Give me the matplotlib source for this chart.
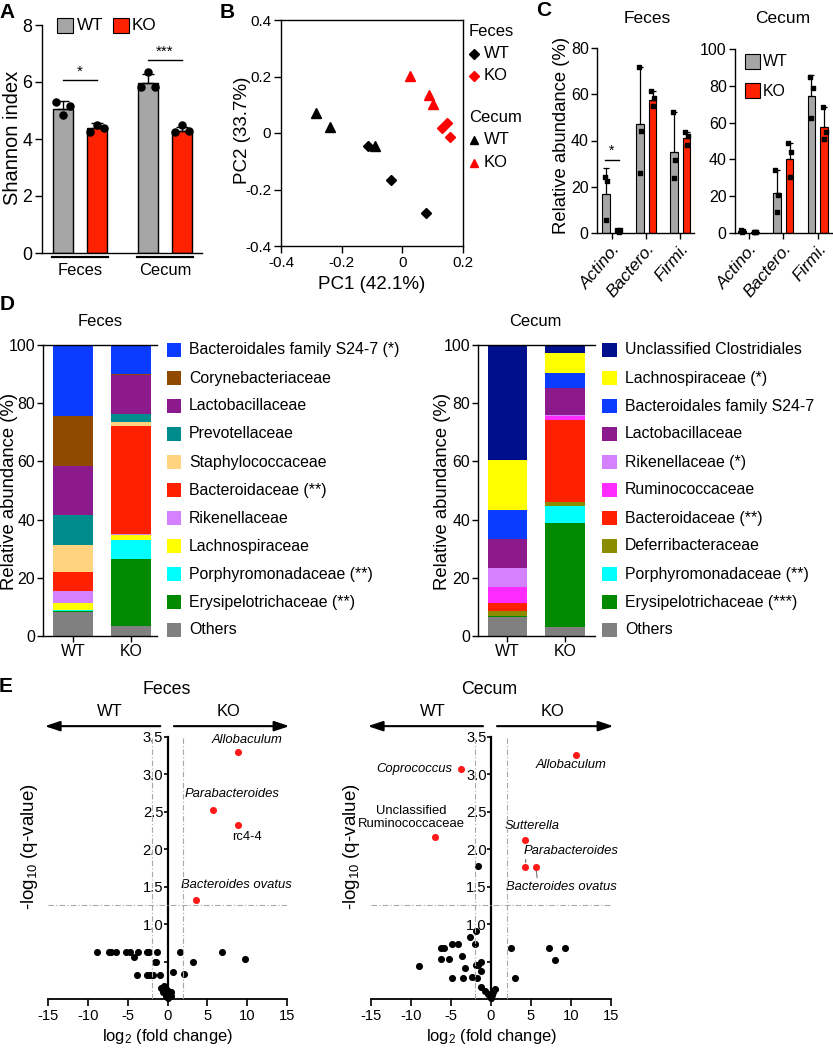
#!/usr/bin/env python3
# Microbiota figure: Shannon index, PCA, phylum bars, family composition, volcano plots

import numpy as np
import matplotlib
matplotlib.use('Agg')
import matplotlib.pyplot as plt
from matplotlib import font_manager as fm
from matplotlib.patches import Rectangle
from matplotlib.lines import Line2D

W, H = 833, 1050

installed = {f.name for f in fm.fontManager.ttflist}
REG = 'Liberation Sans' if 'Liberation Sans' in installed else 'DejaVu Sans'
if 'Liberation Sans Narrow' in installed:
    NAR, NS = 'Liberation Sans Narrow', 1.0
else:
    NAR, NS = REG, 0.85

plt.rcParams['font.family'] = [REG, 'DejaVu Sans']
plt.rcParams['mathtext.default'] = 'regular'
plt.rcParams['axes.unicode_minus'] = False
plt.rcParams['axes.linewidth'] = 1.0

GRAY = '#A6A6A6'
RED = '#FF2200'

# ---------------- data ----------------
# A: Shannon index
sites = ['Feces', 'Cecum']
shannon_wt = [5.05, 5.97]
shannon_ko = [4.38, 4.27]
shannon_wt_sd = [0.28, 0.30]
shannon_ko_sd = [0.17, 0.14]
shannon_wt_pts = [[5.31, 4.84, 5.16], [5.81, 6.36, 5.81]]   # left, centre, right dot
shannon_ko_pts = [[4.25, 4.50, 4.38], [4.26, 4.49, 4.28]]

# B: PCA (x = PC1, y = PC2)
pca_feces_wt_x = [-0.113, -0.038, 0.079]
pca_feces_wt_y = [-0.045, -0.166, -0.284]
pca_feces_ko_x = [0.130, 0.147, 0.158]
pca_feces_ko_y = [0.019, 0.034, -0.015]
pca_cecum_wt_x = [-0.283, -0.239, -0.091]
pca_cecum_wt_y = [0.070, 0.022, -0.045]
pca_cecum_ko_x = [0.024, 0.087, 0.100]
pca_cecum_ko_y = [0.203, 0.135, 0.103]

# C: phylum relative abundance
phyla = ['Actino.', 'Bactero.', 'Firmi.']
feces_phy_wt = [17.0, 47.0, 35.0]
feces_phy_ko = [0.8, 57.5, 41.0]
feces_phy_wt_sd = [11.0, 25.0, 17.5]
feces_phy_ko_sd = [0.4, 4.0, 2.5]
feces_phy_wt_pts = [[24.3, 5.5, 22.5], [71.7, 25.9, 44.2], [52.2, 23.6, 31.6]]
feces_phy_ko_pts = [[1.0, 0.4, 1.1], [61.3, 54.8, 58.4], [43.5, 38.1, 42.0]]
cecum_phy_wt = [1.0, 21.5, 74.5]
cecum_phy_ko = [0.5, 40.0, 57.5]
cecum_phy_wt_sd = [0.6, 12.7, 11.5]
cecum_phy_ko_sd = [0.2, 8.8, 11.2]
cecum_phy_wt_pts = [[1.5, 0.4, 1.0], [34.0, 11.5, 20.5], [85.1, 62.8, 78.8]]
cecum_phy_ko_pts = [[0.5, 0.3, 0.6], [48.8, 30.5, 44.2], [68.7, 51.0, 55.1]]

# D: family composition (listed top of stack first)
fam_feces = ['Bacteroidales family S24-7 (*)', 'Corynebacteriaceae', 'Lactobacillaceae',
             'Prevotellaceae', 'Staphylococcaceae', 'Bacteroidaceae (**)', 'Rikenellaceae',
             'Lachnospiraceae', 'Porphyromonadaceae (**)', 'Erysipelotrichaceae (**)', 'Others']
col_feces = ['#0A3BFF', '#8F4A00', '#8C1A8C', '#008C8C', '#FFD37F', '#FF2000', '#D580FF',
             '#FFFF00', '#00FFFF', '#008A00', '#808080']
feces_fam_wt = [24.5, 17.2, 16.6, 10.3, 9.5, 6.6, 4.0, 2.4, 0.4, 0.1, 8.4]
feces_fam_ko = [10.0, 0.3, 13.4, 2.6, 1.5, 37.2, 0.3, 1.7, 6.7, 22.9, 3.4]

fam_cecum = ['Unclassified Clostridiales', 'Lachnospiraceae (*)', 'Bacteroidales family S24-7',
             'Lactobacillaceae', 'Rikenellaceae (*)', 'Ruminococcaceae', 'Bacteroidaceae (**)',
             'Deferribacteraceae', 'Porphyromonadaceae (**)', 'Erysipelotrichaceae (***)', 'Others']
col_cecum = ['#000F8C', '#FFFF00', '#0A3BFF', '#8C1A8C', '#D580FF', '#FF2BFF', '#FF2000',
             '#8C8C00', '#00FFFF', '#008A00', '#808080']
cecum_fam_wt = [39.4, 17.3, 10.0, 10.1, 6.3, 5.7, 2.5, 1.8, 0.1, 0.2, 6.6]
cecum_fam_ko = [2.9, 6.8, 5.0, 9.5, 0.2, 1.4, 28.3, 1.2, 6.0, 35.5, 3.2]

# E: volcano plots (log2 fold change, -log10 q)
vf_x = [-8.85, -7.4, -7.1, -6.5, -5.2, -4.7, -3.65, -2.6, -2.3, -1.3, 1.56, 6.85,
        9.7, -4.15, -1.6, -1.4, 3.15,
        -3.8, -2.6, -2.2, -1.8, -1.0, 0.65, 2.1,
        -0.8, -0.6, -0.5, -0.3, -0.2, 0.0, 0.1, 0.3, 0.5, 0.45, -0.1]
vf_y = [0.63, 0.63, 0.63, 0.63, 0.63, 0.63, 0.63, 0.63, 0.63, 0.63, 0.63, 0.63,
        0.54, 0.56, 0.50, 0.50, 0.49,
        0.32, 0.32, 0.32, 0.32, 0.32, 0.36, 0.34,
        0.15, 0.10, 0.17, 0.08, 0.04, 0.02, 0.06, 0.10, 0.09, 0.04, 0.12]
vf_sig = ['Allobaculum', 'Parabacteroides', 'rc4-4', 'Bacteroides ovatus']
vf_sig_x = [8.8, 5.7, 8.8, 3.6]
vf_sig_y = [3.30, 2.52, 2.33, 1.32]

vc_x = [-1.6, -1.9, -2.65, -2.0, -4.85, -4.1, -6.3, -5.9, -6.3, -5.3, -3.6, -8.95, -3.3,
        -1.9, -1.6, -1.26, -1.26, -4.85, -3.5, -2.35, -1.7,
        -1.2, -0.75, -0.35, 0.0, 0.3, 0.5, -0.1, 0.15,
        2.5, 3.0, 7.3, 9.2, 8.0]
vc_y = [1.78, 0.91, 0.83, 0.73, 0.74, 0.74, 0.68, 0.68, 0.53, 0.53, 0.58, 0.44, 0.42,
        0.45, 0.45, 0.49, 0.38, 0.28, 0.28, 0.29, 0.28,
        0.16, 0.11, 0.07, 0.02, 0.09, 0.135, 0.05, 0.05,
        0.68, 0.28, 0.68, 0.68, 0.52]
vc_sig = ['Allobaculum', 'Coprococcus', 'Unclassified\nRuminococcaceae', 'Sutterella',
          'Parabacteroides', 'Bacteroides ovatus']
vc_sig_x = [10.6, -3.8, -7.0, 4.3, 4.3, 5.6]
vc_sig_y = [3.26, 3.07, 2.16, 2.12, 1.77, 1.77]

# ---------------- helpers ----------------
fig = plt.figure(figsize=(W / 100, H / 100), dpi=100)


def fbox(x0, y0, x1, y1):
    return [x0 / W, 1 - y1 / H, (x1 - x0) / W, (y1 - y0) / H]


def ftext(x, y, s, **kw):
    kw.setdefault('ha', 'center')
    kw.setdefault('va', 'center')
    fig.text(x / W, 1 - y / H, s, **kw)


def fsquare(x, y, w, h, color, lw=0.8):
    fig.add_artist(Rectangle((x / W, 1 - (y + h) / H), w / W, h / H, facecolor=color,
                             edgecolor='black', lw=lw, transform=fig.transFigure))


def tick_font(ax, fam, size):
    for t in ax.get_xticklabels() + ax.get_yticklabels():
        t.set_fontfamily(fam)
        t.set_fontsize(size)


def plain(ax):
    ax.spines['top'].set_visible(False)
    ax.spines['right'].set_visible(False)


# panel letters
for letter, lx, ly in [('A', 7, 12), ('B', 227, 12), ('C', 544, 11), ('D', 7, 304), ('E', 6, 686)]:
    ftext(lx, ly, letter, fontsize=15, fontweight='bold')

# ---------------- A ----------------
axA = fig.add_axes(fbox(42, 25, 202, 253))
gx = np.arange(len(sites))
a_off, a_w = 0.2, 0.235
jit = np.array([-0.08, 0.0, 0.08])
axA.bar(gx - a_off, shannon_wt, a_w, color=GRAY, edgecolor='black', lw=1, zorder=2)
axA.bar(gx + a_off, shannon_ko, a_w, color=RED, edgecolor='black', lw=1, zorder=2)
axA.errorbar(gx - a_off, shannon_wt, yerr=[np.zeros(2), shannon_wt_sd], fmt='none',
             ecolor='black', elinewidth=1, capsize=4, capthick=1, zorder=3)
axA.errorbar(gx + a_off, shannon_ko, yerr=[np.zeros(2), shannon_ko_sd], fmt='none',
             ecolor='black', elinewidth=1, capsize=4, capthick=1, zorder=3)
for i in range(len(sites)):
    axA.scatter(gx[i] - a_off + jit, shannon_wt_pts[i], s=26, color='black', zorder=4)
    axA.scatter(gx[i] + a_off + jit, shannon_ko_pts[i], s=26, color='black', zorder=4)
    axA.plot([gx[i] - 0.33, gx[i] + 0.33], [-0.14, -0.14], color='black', lw=1.6, clip_on=False)
    axA.text(gx[i], -0.62, sites[i], ha='center', va='center', fontfamily=NAR, fontsize=14 * NS)
axA.plot([gx[0] - a_off, gx[0] + a_off], [6.07, 6.07], color='black', lw=1)
axA.text(gx[0], 6.12, '*', ha='center', va='bottom', fontsize=11)
axA.plot([gx[1] - a_off, gx[1] + a_off], [6.77, 6.77], color='black', lw=1)
axA.text(gx[1], 6.82, '***', ha='center', va='bottom', fontsize=11)
axA.set_xlim(-0.447, 1.435)
axA.set_ylim(0, 8)
axA.set_yticks([0, 2, 4, 6, 8])
axA.set_xticks([])
plain(axA)
axA.tick_params(axis='y', length=5, width=1, pad=2)
tick_font(axA, NAR, 15 * NS)
ftext(12.5, 138, 'Shannon index', rotation=90, fontsize=14.5)
fsquare(57, 18, 16, 15, GRAY)
ftext(77, 26, 'WT', ha='left', fontfamily=NAR, fontsize=14.5 * NS)
fsquare(113, 18, 16, 15, RED)
ftext(132, 26, 'KO', ha='left', fontfamily=NAR, fontsize=14.5 * NS)

# ---------------- B ----------------
axB = fig.add_axes(fbox(281, 20, 463, 246))
axB.plot(pca_feces_wt_x, pca_feces_wt_y, 'D', color='black', ms=5, ls='none', zorder=3)
axB.plot(pca_feces_ko_x, pca_feces_ko_y, 'D', color='#FF0000', ms=5, ls='none', zorder=3)
axB.plot(pca_cecum_wt_x, pca_cecum_wt_y, '^', color='black', ms=7, ls='none', zorder=3)
axB.plot(pca_cecum_ko_x, pca_cecum_ko_y, '^', color='#FF0000', ms=7, ls='none', zorder=3)
axB.set_xlim(-0.4, 0.2)
axB.set_ylim(-0.4, 0.4)
axB.set_xticks([-0.4, -0.2, 0, 0.2])
axB.set_xticklabels(['-0.4', '-0.2', '0', '0.2'])
axB.set_yticks([-0.4, -0.2, 0, 0.2, 0.4])
axB.set_yticklabels(['-0.4', '-0.2', '0', '0.2', '0.4'])
axB.tick_params(length=5, width=1, pad=2)
tick_font(axB, REG, 11)
ftext(242.5, 130, 'PC2 (33.7%)', rotation=90, fontsize=13.5)
ftext(372, 285, 'PC1 (42.1%)', fontsize=13.5)
ftext(469, 32, 'Feces', ha='left', fontsize=12)
ftext(469, 117, 'Cecum', ha='left', fontsize=12)
for yy, mk, col, lab in [(54, 'D', 'black', 'WT'), (76, 'D', '#FF0000', 'KO'),
                         (140, '^', 'black', 'WT'), (163, '^', '#FF0000', 'KO')]:
    fig.add_artist(Line2D([473.5 / W], [1 - yy / H], marker=mk, color=col, ls='none',
                          ms=5 if mk == 'D' else 6, transform=fig.transFigure))
    ftext(484, yy, lab, ha='left', fontsize=12)

# ---------------- C ----------------
c_off, c_w = 0.185, 0.22
c_jit = np.array([-0.04, 0.0, 0.04])


def phylum_panel(ax, wt, ko, wt_sd, ko_sd, wt_pts, ko_pts, top, xlim):
    x = np.arange(len(phyla))
    ax.bar(x - c_off, wt, c_w, color=GRAY, edgecolor='black', lw=0.8, zorder=2)
    ax.bar(x + c_off, ko, c_w, color=RED, edgecolor='black', lw=0.8, zorder=2)
    ax.errorbar(x - c_off, wt, yerr=[np.zeros(len(x)), wt_sd], fmt='none', ecolor='black',
                elinewidth=0.9, capsize=2.5, capthick=0.9, zorder=3)
    ax.errorbar(x + c_off, ko, yerr=[np.zeros(len(x)), ko_sd], fmt='none', ecolor='black',
                elinewidth=0.9, capsize=2.5, capthick=0.9, zorder=3)
    for i in range(len(x)):
        ax.scatter(x[i] - c_off + c_jit, wt_pts[i], marker='s', s=10, color='black', zorder=4,
                   clip_on=False)
        ax.scatter(x[i] + c_off + c_jit, ko_pts[i], marker='s', s=10, color='black', zorder=4,
                   clip_on=False)
    ax.set_xlim(*xlim)
    ax.set_ylim(0, top)
    ax.set_yticks(np.arange(0, top + 1, 20))
    ax.set_xticks(x)
    ax.set_xticklabels(phyla, rotation=50, ha='right', rotation_mode='anchor')
    plain(ax)
    ax.tick_params(length=4, width=1, pad=2)
    tick_font(ax, REG, 11.5)
    for t in ax.get_xticklabels():
        t.set_style('italic')
        t.set_fontsize(12.5)


axC1 = fig.add_axes(fbox(597, 48.3, 694, 232.7))
phylum_panel(axC1, feces_phy_wt, feces_phy_ko, feces_phy_wt_sd, feces_phy_ko_sd,
             feces_phy_wt_pts, feces_phy_ko_pts, 80, (-0.45, 2.4))
axC1.plot([-c_off - 0.02, c_off + 0.01], [31.6, 31.6], color='black', lw=1)
axC1.text(-0.01, 32.5, '*', ha='center', va='bottom', fontsize=10)
axC2 = fig.add_axes(fbox(735, 49.3, 832, 232.7))
phylum_panel(axC2, cecum_phy_wt, cecum_phy_ko, cecum_phy_wt_sd, cecum_phy_ko_sd,
             cecum_phy_wt_pts, cecum_phy_ko_pts, 100, (-0.39, 2.41))
ftext(647, 18.5, 'Feces', fontsize=12.5)
ftext(783, 18.5, 'Cecum', fontsize=12.5)
ftext(561, 135, 'Relative abundance (%)', rotation=90, fontsize=13.3)
fsquare(745, 54, 15, 15, GRAY)
ftext(763, 62, 'WT', ha='left', fontfamily=NAR, fontsize=13.5 * NS)
fsquare(745, 83, 15, 15, RED)
ftext(763, 91, 'KO', ha='left', fontfamily=NAR, fontsize=13.5 * NS)

# ---------------- D ----------------
d_w = 0.69


def stack_panel(ax, wt, ko, colors, xlim):
    for j, vals in enumerate([wt, ko]):
        bottom = 0.0
        for v, c in zip(vals[::-1], colors[::-1]):
            ax.bar(j, v, d_w, bottom=bottom, color=c, lw=0)
            bottom += v
    ax.set_xlim(*xlim)
    ax.set_ylim(0, 100)
    ax.set_yticks(np.arange(0, 101, 20))
    ax.set_xticks([0, 1])
    ax.set_xticklabels(['WT', 'KO'])
    ax.spines['right'].set_visible(False)
    ax.tick_params(length=4, width=1, pad=2)
    tick_font(ax, NAR, 13.5 * NS)


axD1 = fig.add_axes(fbox(43.3, 345, 157, 636))
stack_panel(axD1, feces_fam_wt, feces_fam_ko, col_feces, (-0.517, 1.443))
axD2 = fig.add_axes(fbox(478.3, 345, 595, 636))
stack_panel(axD2, cecum_fam_wt, cecum_fam_ko, col_cecum, (-0.505, 1.514))
ftext(100, 322, 'Feces', fontfamily=NAR, fontsize=14 * NS)
ftext(535, 322, 'Cecum', fontfamily=NAR, fontsize=14 * NS)
ftext(10, 491, 'Relative abundance (%)', rotation=90, fontsize=13.3)
ftext(443, 491, 'Relative abundance (%)', rotation=90, fontsize=13.3)
for i in range(len(fam_feces)):
    yy = 350 + 28 * i
    fsquare(166.7, yy - 7, 14.3, 14.3, col_feces[i], lw=0)
    ftext(189, yy, fam_feces[i], ha='left', fontfamily=NAR, fontsize=13.5 * NS)
    fsquare(602.3, yy - 7, 14.3, 14.3, col_cecum[i], lw=0)
    ftext(625, yy, fam_cecum[i], ha='left', fontfamily=NAR, fontsize=13.5 * NS)

# ---------------- E ----------------
DASH = (0, (5, 2, 1, 2))


def volcano(ax, bx, by, names, sx, sy, offsets, arrow_x):
    ax.set_xlim(-15, 15)
    ax.set_ylim(0, 3.5)
    plain(ax)
    ax.spines['left'].set_position(('data', 0))
    ax.spines['left'].set_linewidth(1.6)
    ax.spines['bottom'].set_linewidth(1.3)
    ax.set_xticks(np.arange(-15, 16, 5))
    ax.set_yticks([0.5, 1.0, 1.5, 2.0, 2.5, 3.0, 3.5])
    ax.set_yticklabels(['', '1.0', '1.5', '2.0', '2.5', '3.0', '3.5'])
    ax.tick_params(axis='x', length=5, width=1.2, pad=2)
    ax.tick_params(axis='y', length=3, width=1.2, pad=0)
    tick_font(ax, NAR, 12.5 * NS)
    for xv in (-2, 2):
        ax.plot([xv, xv], [0, 3.5], color='#A8A8A8', lw=0.8, ls=DASH, zorder=5)
    ax.plot([-15, 15], [1.25, 1.25], color='#A8A8A8', lw=0.8, ls=DASH, zorder=5)
    ax.scatter(bx, by, s=26, color='black', zorder=3, clip_on=False, lw=0)
    ax.scatter(sx, sy, s=26, color='#FF1A1A', zorder=4, clip_on=False, lw=0)
    for name, x, y, off in zip(names, sx, sy, offsets):
        dx, dy, ha, conn = off
        style = 'normal' if name in ('rc4-4', 'Unclassified\nRuminococcaceae') else 'italic'
        kw = {}
        if conn is not None:
            kw['arrowprops'] = dict(arrowstyle='-', color='#808080', lw=0.9, shrinkA=0,
                                    shrinkB=3, relpos=conn)
        ax.annotate(name, (x, y), xytext=(dx, dy), textcoords='offset pixels', ha=ha,
                    va='center', fontfamily=NAR, fontsize=11 * NS, style=style,
                    linespacing=1.1, annotation_clip=False, **kw)
    ax.annotate('', xy=(-15.4, 3.645), xytext=(arrow_x[0], 3.645), annotation_clip=False,
                arrowprops=dict(arrowstyle='-|>,head_length=0.9,head_width=0.3', lw=1.5,
                                color='black', shrinkA=0, shrinkB=0))
    ax.annotate('', xy=(15.3, 3.645), xytext=(arrow_x[1], 3.645), annotation_clip=False,
                arrowprops=dict(arrowstyle='-|>,head_length=0.9,head_width=0.3', lw=1.5,
                                color='black', shrinkA=0, shrinkB=0))
    ax.text(-7.3, 3.84, 'WT', ha='center', va='center', fontfamily=NAR, fontsize=14 * NS)
    ax.text(7.7, 3.84, 'KO', ha='center', va='center', fontfamily=NAR, fontsize=14 * NS)
    ax.set_xlabel('log$_2$ (fold change)', fontfamily=NAR, fontsize=14 * NS, labelpad=3)


axE1 = fig.add_axes(fbox(48, 737, 287, 999))
volcano(axE1, vf_x, vf_y, vf_sig, vf_sig_x, vf_sig_y,
        [(9, 12, 'center', None), (19, 16, 'center', None), (9, -12, 'center', None),
         (40, 15, 'center', None)], (-0.9, 0.8))
axE2 = fig.add_axes(fbox(371, 737, 611, 999))
volcano(axE2, vc_x, vc_y, vc_sig, vc_sig_x, vc_sig_y,
        [(-5, -10, 'center', None), (-8, 0, 'right', None), (-24, 20, 'center', None),
         (7, 14, 'center', None), (46, 16, 'center', (0.02, 0.1)),
         (26, -20, 'center', (0.28, 1.0))], (-1.0, 0.75))
ftext(167, 689, 'Feces', fontfamily=NAR, fontsize=15 * NS)
ftext(489, 689, 'Cecum', fontfamily=NAR, fontsize=15 * NS)
ftext(29, 847, '-log$_{10}$ (q-value)', rotation=90, fontsize=13.5)
ftext(351, 847, '-log$_{10}$ (q-value)', rotation=90, fontsize=13.5)

fig.savefig('out.png', dpi=100)
